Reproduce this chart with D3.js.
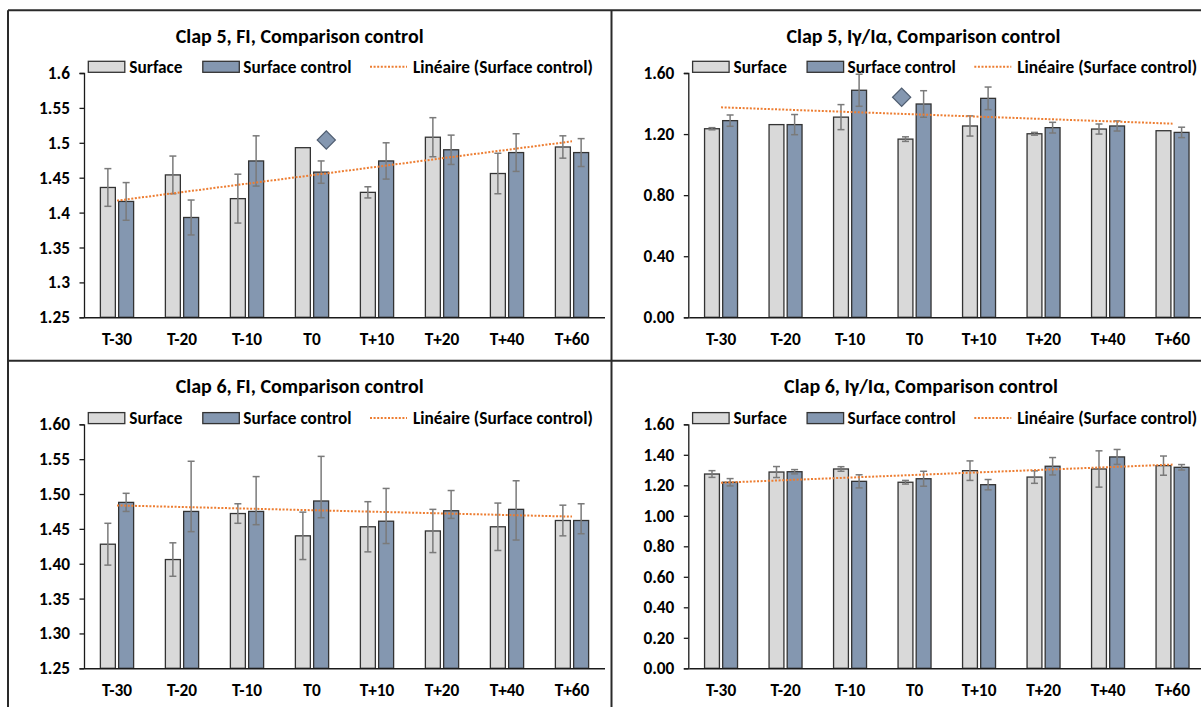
<!DOCTYPE html>
<html>
<head>
<meta charset="utf-8">
<script src="https://cdn.jsdelivr.net/npm/d3@7"></script>
<style>
  html, body { margin: 0; padding: 0; background: #fff; }
  svg { display: block; }
  text { font-family: Carlito, Lato, "Open Sans", sans-serif; font-weight: bold; fill: #000; }
</style>
</head>
<body>
<svg id="chart" width="1201" height="707"></svg>
<script>
// ---------- DATA ----------
const categories = ["T-30", "T-20", "T-10", "T0", "T+10", "T+20", "T+40", "T+60"];
const seriesNames = ["Surface", "Surface control", "Linéaire (Surface control)"];

// Clap 5, FI
const c5fiSurface    = [1.436, 1.454, 1.420, 1.493, 1.429, 1.508, 1.456, 1.494];
const c5fiSurfaceErr = [0.027, 0.027, 0.035, 0.000, 0.008, 0.028, 0.029, 0.016];
const c5fiControl    = [1.416, 1.393, 1.474, 1.458, 1.474, 1.490, 1.486, 1.486];
const c5fiControlErr = [0.027, 0.025, 0.036, 0.016, 0.026, 0.021, 0.027, 0.020];
const c5fiTicks      = [1.25, 1.3, 1.35, 1.4, 1.45, 1.5, 1.55, 1.6];
const c5fiTickLabels = ["1.25", "1.3", "1.35", "1.4", "1.45", "1.5", "1.55", "1.6"];
const c5fiMarker     = { category: "T0", value: 1.504 };

// Clap 5, Iγ/Iα
const c5irSurface    = [1.235, 1.262, 1.311, 1.167, 1.253, 1.202, 1.233, 1.222];
const c5irSurfaceErr = [0.007, 0.000, 0.082, 0.015, 0.066, 0.009, 0.033, 0.000];
const c5irControl    = [1.288, 1.262, 1.487, 1.397, 1.434, 1.242, 1.253, 1.211];
const c5irControlErr = [0.037, 0.066, 0.105, 0.087, 0.074, 0.035, 0.033, 0.034];
const c5irTicks      = [0, 0.4, 0.8, 1.2, 1.6];
const c5irTickLabels = ["0.00", "0.40", "0.80", "1.20", "1.60"];
const c5irMarker     = { category: "T0", value: 1.441 };

// Clap 6, FI
const c6fiSurface         = [1.428, 1.406, 1.472, 1.440, 1.453, 1.447, 1.453, 1.462];
const c6fiSurfaceErr      = [0.030, 0.024, 0.014, 0.034, 0.036, 0.031, 0.034, 0.022];
const c6fiControl         = [1.488, 1.475, 1.475, 1.490, 1.461, 1.476, 1.478, 1.462];
const c6fiControlErrPlus  = [0.013, 0.072, 0.050, 0.064, 0.047, 0.029, 0.041, 0.024];
const c6fiControlErrMinus = [0.013, 0.029, 0.019, 0.024, 0.032, 0.011, 0.044, 0.019];
const c6fiTicks      = [1.25, 1.3, 1.35, 1.4, 1.45, 1.5, 1.55, 1.6];
const c6fiTickLabels = ["1.25", "1.30", "1.35", "1.40", "1.45", "1.50", "1.55", "1.60"];

// Clap 6, Iγ/Iα
const c6irSurface    = [1.274, 1.287, 1.307, 1.220, 1.296, 1.254, 1.307, 1.329];
const c6irSurfaceErr = [0.022, 0.036, 0.015, 0.012, 0.064, 0.041, 0.119, 0.063];
const c6irControl    = [1.220, 1.289, 1.226, 1.243, 1.204, 1.325, 1.386, 1.318];
const c6irControlErr = [0.024, 0.014, 0.043, 0.049, 0.034, 0.057, 0.049, 0.018];
const c6irTicks      = [0, 0.2, 0.4, 0.6, 0.8, 1.0, 1.2, 1.4, 1.6];
const c6irTickLabels = ["0.00", "0.20", "0.40", "0.60", "0.80", "1.00", "1.20", "1.40", "1.60"];

// ---------- STYLE / LAYOUT ----------
const COL_SURF = "#d9d9d9", COL_CTRL = "#8497b0", COL_EDGE = "#333333",
      COL_ERR = "#7a7a7a", COL_TREND = "#ed7d31";
const FS = "17.3px", FS_TITLE = "20px";

const panels = [
  { title: "Clap 5, FI, Comparison control", x0: 84.5, x1: 604.5, yTop: 73, yBot: 317.3, titleCx: 299.7, titleY: 42.7, legY: 61.3,
    surf: c5fiSurface, surfErr: c5fiSurfaceErr, ctrl: c5fiControl, ctrlErrPlus: c5fiControlErr, ctrlErrMinus: c5fiControlErr,
    ticks: c5fiTicks, tickLabels: c5fiTickLabels, marker: c5fiMarker, markerShift: 0.22 },
  { title: "Clap 5,  Iγ/Iα, Comparison control", x0: 688.8, x1: 1204.8, yTop: 73, yBot: 317.3, titleCx: 923.4, titleY: 42.7, legY: 61.3,
    surf: c5irSurface, surfErr: c5irSurfaceErr, ctrl: c5irControl, ctrlErrPlus: c5irControlErr, ctrlErrMinus: c5irControlErr,
    ticks: c5irTicks, tickLabels: c5irTickLabels, marker: c5irMarker, markerShift: -0.2 },
  { title: "Clap 6, FI, Comparison control", x0: 84.5, x1: 604.5, yTop: 424.3, yBot: 668.3, titleCx: 299.7, titleY: 392.6, legY: 412.6,
    surf: c6fiSurface, surfErr: c6fiSurfaceErr, ctrl: c6fiControl, ctrlErrPlus: c6fiControlErrPlus, ctrlErrMinus: c6fiControlErrMinus,
    ticks: c6fiTicks, tickLabels: c6fiTickLabels },
  { title: "Clap 6, Iγ/Iα, Comparison control", x0: 688.8, x1: 1204.8, yTop: 424.3, yBot: 668.3, titleCx: 921, titleY: 392.6, legY: 412.6,
    surf: c6irSurface, surfErr: c6irSurfaceErr, ctrl: c6irControl, ctrlErrPlus: c6irControlErr, ctrlErrMinus: c6irControlErr,
    ticks: c6irTicks, tickLabels: c6irTickLabels }
];

const svg = d3.select("#chart");
svg.append("rect").attr("width", 1201).attr("height", 707).attr("fill", "#fff");

// frame lines
const frame = svg.append("g").attr("stroke", "#2a2a2a").attr("stroke-width", 2).attr("fill", "none");
frame.append("line").attr("x1", 8).attr("x2", 1201).attr("y1", 10.3).attr("y2", 10.3);
frame.append("line").attr("x1", 8).attr("x2", 8).attr("y1", 10.3).attr("y2", 707);
frame.append("line").attr("x1", 611.5).attr("x2", 611.5).attr("y1", 10.3).attr("y2", 707);
frame.append("line").attr("x1", 8).attr("x2", 1201).attr("y1", 360.7).attr("y2", 360.7);

panels.forEach(p => {
  const g = svg.append("g");
  const x = d3.scaleBand().domain(categories).range([p.x0, p.x1]);
  const xs = d3.scaleBand().domain(["s", "c"]).range([0, x.bandwidth()]).paddingInner(0.18).paddingOuter(0.87);
  const y = d3.scaleLinear().domain([p.ticks[0], p.ticks[p.ticks.length - 1]]).range([p.yBot, p.yTop]);

  // title
  g.append("text").attr("x", p.titleCx).attr("y", p.titleY).attr("text-anchor", "middle")
    .style("font-size", FS_TITLE).text(p.title);

  // legend
  const lx = p.x0;
  g.append("rect").attr("x", lx + 3.8).attr("y", p.legY).attr("width", 36.5).attr("height", 11)
    .attr("fill", COL_SURF).attr("stroke", COL_EDGE).attr("stroke-width", 1.3);
  g.append("text").attr("x", lx + 44.8).attr("y", p.legY + 11.5).style("font-size", FS).text(seriesNames[0]);
  g.append("rect").attr("x", lx + 118.3).attr("y", p.legY).attr("width", 36.5).attr("height", 11)
    .attr("fill", COL_CTRL).attr("stroke", COL_EDGE).attr("stroke-width", 1.3);
  g.append("text").attr("x", lx + 158.8).attr("y", p.legY + 11.5).style("font-size", FS).text(seriesNames[1]);
  g.append("line").attr("x1", lx + 285.5).attr("x2", lx + 322.5).attr("y1", p.legY + 5.5).attr("y2", p.legY + 5.5)
    .attr("stroke", COL_TREND).attr("stroke-width", 2).attr("stroke-dasharray", "2,1.6");
  g.append("text").attr("x", lx + 328.5).attr("y", p.legY + 11.5).style("font-size", FS).text(seriesNames[2]);

  // y axis
  const yAxis = d3.axisLeft(y).tickValues(p.ticks).tickSize(4.5).tickPadding(9.5)
    .tickFormat((d, i) => p.tickLabels[i]);
  const ya = g.append("g").attr("transform", `translate(${p.x0 - 0.5},0)`).call(yAxis);
  ya.select(".domain").attr("stroke", "#1a1a1a").attr("stroke-width", 1.3);
  ya.selectAll(".tick line").attr("stroke", "#1a1a1a").attr("stroke-width", 1.3);
  ya.selectAll("text").style("font-size", FS).attr("font-family", null).attr("fill", "#000");

  // bars
  const rows = categories.map((c, i) => ({ c, i }));
  g.append("g").selectAll("rect").data(rows).join("rect")
    .attr("x", d => x(d.c) + xs("s")).attr("width", xs.bandwidth())
    .attr("y", d => y(p.surf[d.i])).attr("height", d => y.range()[0] - y(p.surf[d.i]))
    .attr("fill", COL_SURF).attr("stroke", COL_EDGE).attr("stroke-width", 1.3);
  g.append("g").selectAll("rect").data(rows).join("rect")
    .attr("x", d => x(d.c) + xs("c")).attr("width", xs.bandwidth())
    .attr("y", d => y(p.ctrl[d.i])).attr("height", d => y.range()[0] - y(p.ctrl[d.i]))
    .attr("fill", COL_CTRL).attr("stroke", COL_EDGE).attr("stroke-width", 1.3);

  // x axis
  const xAxis = d3.axisBottom(x).tickSize(0).tickPadding(15.5);
  const xa = g.append("g").attr("transform", `translate(0,${p.yBot})`).call(xAxis);
  xa.select(".domain").attr("stroke", "#1a1a1a").attr("stroke-width", 1.5);
  xa.selectAll("text").style("font-size", FS).attr("font-family", null).attr("fill", "#000");

  // error bars
  const errs = [];
  rows.forEach(d => {
    errs.push({ cx: x(d.c) + xs("s") + xs.bandwidth() / 2, v: p.surf[d.i], hi: p.surfErr[d.i], lo: p.surfErr[d.i] });
    errs.push({ cx: x(d.c) + xs("c") + xs.bandwidth() / 2, v: p.ctrl[d.i], hi: p.ctrlErrPlus[d.i], lo: p.ctrlErrMinus[d.i] });
  });
  const eg = g.append("g").attr("stroke", COL_ERR).attr("stroke-width", 1.5);
  errs.filter(e => e.hi > 0 || e.lo > 0).forEach(e => {
    const yt = y(e.v + e.hi), yb = y(e.v - e.lo);
    eg.append("line").attr("x1", e.cx).attr("x2", e.cx).attr("y1", yt).attr("y2", yb);
    eg.append("line").attr("x1", e.cx - 3.5).attr("x2", e.cx + 3.5).attr("y1", yt).attr("y2", yt);
    eg.append("line").attr("x1", e.cx - 3.5).attr("x2", e.cx + 3.5).attr("y1", yb).attr("y2", yb);
  });

  // linear trend of Surface control (least squares on category index)
  const n = p.ctrl.length;
  const xsIdx = d3.range(1, n + 1);
  const mx = d3.mean(xsIdx), my = d3.mean(p.ctrl);
  const slope = d3.sum(xsIdx.map((xi, i) => (xi - mx) * (p.ctrl[i] - my))) / d3.sum(xsIdx.map(xi => (xi - mx) ** 2));
  const icpt = my - slope * mx;
  const trendPts = [1, n].map(k => [x(categories[k - 1]) + x.bandwidth() / 2, y(icpt + slope * k)]);
  g.append("path").attr("d", d3.line()(trendPts)).attr("fill", "none")
    .attr("stroke", COL_TREND).attr("stroke-width", 2).attr("stroke-dasharray", "2,1.6");

  // significance marker (diamond)
  if (p.marker) {
    const mxp = x(p.marker.category) + x.bandwidth() / 2 + p.markerShift * x.bandwidth();
    const myp = y(p.marker.value);
    g.append("path")
      .attr("d", d3.symbol().type(d3.symbolSquare).size(165)())
      .attr("transform", `translate(${mxp},${myp}) rotate(45)`)
      .attr("fill", COL_CTRL).attr("stroke", "#4f5d70").attr("stroke-width", 1.2);
  }
});
</script>
</body>
</html>
